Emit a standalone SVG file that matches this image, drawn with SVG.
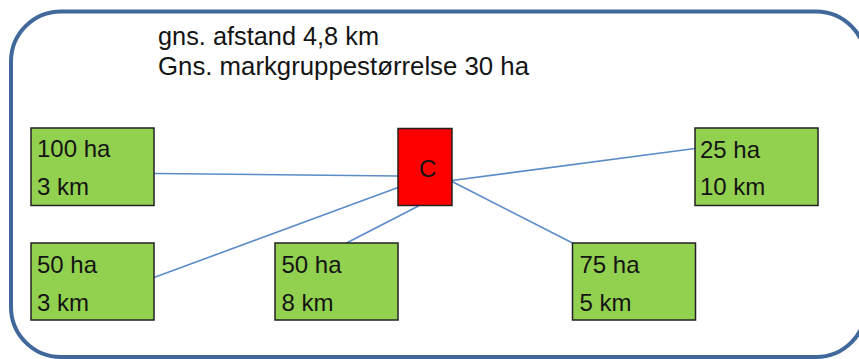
<svg xmlns="http://www.w3.org/2000/svg" width="859" height="359" viewBox="0 0 859 359">
  <style>
    .frame { fill: #ffffff; stroke: #41689b; stroke-width: 4; }
    .box { fill: #92d050; stroke: #222222; stroke-width: 1.5; }
    .center { fill: #ff0000; stroke: #222222; stroke-width: 1.5; }
    .conn { stroke: #5b8cc8; stroke-width: 1.6; fill: none; }
    text { font-family: "Liberation Sans", Arial, sans-serif; font-size: 24px; fill: #141414; }
    .hdr { font-size: 25px; }
  </style>
  <rect x="0" y="0" width="859" height="359" fill="#ffffff"/>
  <rect class="frame" x="11" y="11.5" width="855" height="345.5" rx="50" ry="50"/>
  <g id="header">
    <text class="hdr" x="158" y="45" textLength="221" lengthAdjust="spacingAndGlyphs">gns. afstand 4,8 km</text>
    <text class="hdr" x="158" y="75" textLength="371" lengthAdjust="spacingAndGlyphs">Gns. markgruppestørrelse 30 ha</text>
  </g>
  <g id="connectors">
    <line class="conn" x1="154" y1="173.5" x2="398" y2="176"/>
    <line class="conn" x1="154" y1="277.5" x2="398" y2="187.5"/>
    <line class="conn" x1="346.5" y1="243" x2="418.5" y2="206"/>
    <line class="conn" x1="452" y1="180.5" x2="695" y2="148.5"/>
    <line class="conn" x1="452" y1="181.5" x2="572.5" y2="243"/>
  </g>
  <g id="node-c">
    <rect class="center" x="398" y="128.5" width="54" height="77"/>
    <text x="419" y="177">C</text>
  </g>
  <g id="node-100ha">
    <rect class="box" x="31" y="128" width="123" height="77.5"/>
    <text x="37" y="157">100 ha</text>
    <text x="37" y="195">3 km</text>
  </g>
  <g id="node-25ha">
    <rect class="box" x="695" y="128" width="123" height="77.5"/>
    <text x="700" y="157.5">25 ha</text>
    <text x="700" y="195">10 km</text>
  </g>
  <g id="node-50ha-3km">
    <rect class="box" x="31" y="243" width="123" height="77"/>
    <text x="37" y="272.5">50 ha</text>
    <text x="37" y="310.5">3 km</text>
  </g>
  <g id="node-50ha-8km">
    <rect class="box" x="275" y="243" width="123" height="77"/>
    <text x="281.5" y="272.5">50 ha</text>
    <text x="281.5" y="310.5">8 km</text>
  </g>
  <g id="node-75ha">
    <rect class="box" x="572.5" y="243" width="123" height="77"/>
    <text x="579.5" y="272.5">75 ha</text>
    <text x="579.5" y="310.5">5 km</text>
  </g>
</svg>
